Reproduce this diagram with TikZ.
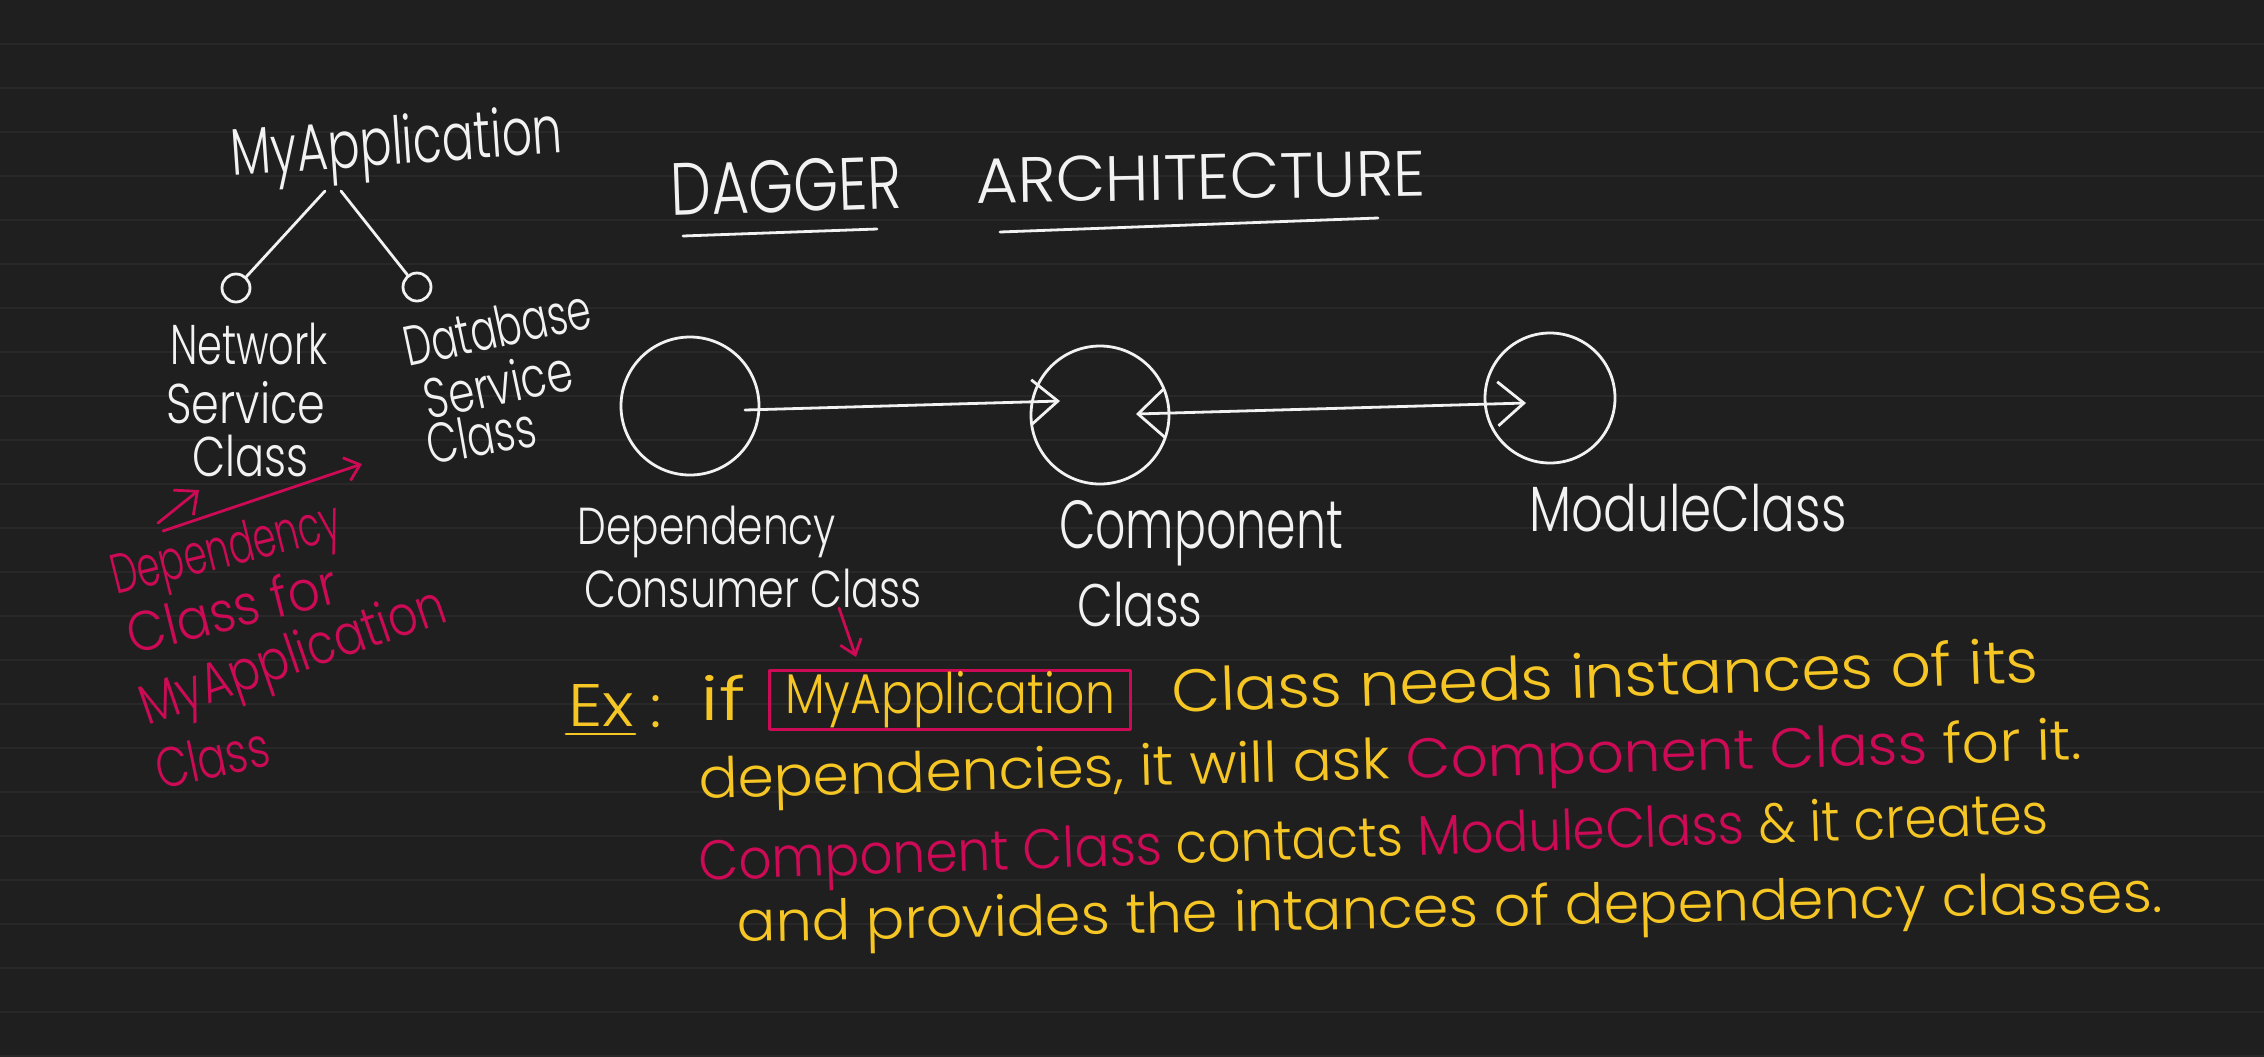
\documentclass[tikz,border=0pt]{standalone}
\usepackage{fontspec}
\setmainfont{Poppins}[UprightFont=* Light]
\usepackage{graphicx}
\usetikzlibrary{arrows.meta,calc}
\definecolor{bg}{HTML}{1F1F1F}
\definecolor{rulec}{HTML}{282828}
\definecolor{ink}{HTML}{F2F2F2}
\definecolor{yel}{HTML}{F6C624}
\definecolor{crim}{HTML}{CC0A55}
\newlength\pxu \setlength\pxu{0.5pt}
\newcommand\hw[2]{\resizebox{#1\pxu}{\height}{#2}}
\newcommand\fs[1]{\fontsize{#1}{#1}\selectfont}
\begin{document}
\begin{tikzpicture}[x=0.5pt,y=-0.5pt,
  txt/.style={inner sep=0pt, anchor=center, text=ink},
  ytxt/.style={inner sep=0pt, anchor=center, text=yel},
  rtxt/.style={inner sep=0pt, anchor=center, text=crim},
  pen/.style={line width=1.4pt, line cap=round, line join=round},
  bigc/.style={circle, draw=ink, pen, minimum size=69pt, inner sep=0pt},
  smallc/.style={circle, draw=ink, pen, minimum size=14pt, inner sep=0pt},
  barb/.style={-{Straight Barb[length=13pt,width=22pt]}},
  dbarb/.style={{Straight Barb[length=13pt,width=24pt]}-{Straight Barb[length=13pt,width=22pt]}}]
\useasboundingbox (0,0) rectangle (2264,1056);
\fill[bg] (0,0) rectangle (2264,1056);
\foreach \k in {0,...,23}{\draw[rulec, line width=1pt] (0,{43.5+44*\k}) -- (2264,{43.5+44*\k});}

% tree
\node[txt, rotate=4] (ma) at (397,148) {\fs{33}\hw{332}{MyApplication}};
\node[smallc] (nc) at (236,288) {};
\node[smallc] (dc) at (417,287) {};
\draw[ink, pen] ($(ma.center)+(-72,43)$) -- (nc);
\draw[ink, pen] ($(ma.center)+(-56,43)$) -- (dc);
\node[txt] (n1) at (249,344) {\fs{28}\hw{158}{Network}};
\node[txt] (n2) at (246,403) {\fs{28}\hw{159}{Service}};
\node[txt] (n3) at (250,456) {\fs{28}\hw{116}{Class}};
\node[txt, rotate=12] (d1) at (497,327) {\fs{28}\hw{190}{Database}};
\node[txt, rotate=12] (d2) at (498,384) {\fs{28}\hw{150}{Service}};
\node[txt, rotate=10] (d3) at (481,435) {\fs{28}\hw{110}{Class}};

% red note
\node[rtxt, rotate=14] (rd1) at (227,553) {\fs{28}\hw{235}{Dependency}};
\node[rtxt, rotate=14] (rd2) at (232,608) {\fs{28}\hw{215}{Class for}};
\node[rtxt, rotate=19] (rd3) at (294,660) {\fs{28}\hw{320}{MyApplication}};
\node[rtxt, rotate=12] (rd4) at (212,757) {\fs{28}\hw{115}{Class}};
\draw[crim, pen, -{Straight Barb[length=7pt,width=12pt]}] ($(rd1.center)+(-64,-22)$) -- ($(d3.center)+(-119,29)$);
\draw[crim, pen, -{Straight Barb[length=9pt,width=16pt]}] ($(rd1.center)+(-69,-30)$) -- ($(n3.center)+(-51,34)$);

% title
\node[txt, rotate=2] (t1) at (786,186) {\fs{37}\hw{231}{DAGGER}};
\node[txt, rotate=1] (t2) at (1201,177) {\fs{32}\hw{450}{ARCHITECTURE}};
\draw[ink, pen] ($(t1.center)+(-103,50)$) -- ($(t1.center)+(91,43)$);
\draw[ink, pen] ($(t2.center)+(-201,55)$) -- ($(t2.center)+(177,41)$);

% circles
\node[bigc] (c1) at (690,406) {};
\node[bigc] (c2) at (1100,415) {};
\node[bigc, minimum size=65pt] (c3) at (1550,398) {};
\draw[ink, pen, barb] ($(c1.center)+(55,4)$) -- ($(c2.center)+(-40,-14)$);
\draw[ink, pen, dbarb] ($(c2.center)+(36,-1)$) -- ($(c3.center)+(-24,5)$);

\node[txt] (dep) at (707,532) {\fs{26}\hw{258}{Dependency}};
\node[txt] (cc) at (753,588) {\fs{26}\hw{337}{Consumer Class}};
\node[txt] (cp) at (1201,533) {\fs{34}\hw{284}{Component}};
\node[txt] (cp2) at (1140,605) {\fs{30}\hw{125}{Class}};
\node[txt] (mc) at (1688,508) {\fs{32}\hw{317}{ModuleClass}};

% example
\node[ytxt] (ex) at (601,705) {\fs{30}\hw{66}{Ex}};
\draw[yel, pen] ($(ex.center)+(-35,29)$) -- ($(ex.center)+(34,29)$);
\node[ytxt] (col) at (656,712) {\fs{30}:};
\node[ytxt] (if) at (723,698) {\fs{30}\hw{45}{if}};
\node[ytxt, draw=crim, pen, minimum width=180.5pt, minimum height=29.5pt] (box) at (950,700) {\fs{28}\hw{330}{MyApplication}};
\draw[crim, pen, -{Straight Barb[length=7pt,width=11pt]}] ($(cc.center)+(86,20)$) -- ($(box.center)+(-94,-43)$);
\node[ytxt, rotate=2] (l1) at (1605,675) {\fs{30}\hw{867}{Class needs instances of its}};
\node[ytxt, rotate=1.6] (l2) at (1390,765) {\fs{28}\hw{1383}{dependencies, it will ask \textcolor{crim}{Component Class} for it.}};
\node[ytxt, rotate=2] (l3) at (1374,843) {\fs{28}\hw{1350}{\textcolor{crim}{Component Class} contacts \textcolor{crim}{ModuleClass} \& it creates}};
\node[ytxt, rotate=1.2] (l4) at (1450,913) {\fs{28}\hw{1426}{and provides the intances of dependency classes.}};
\end{tikzpicture}
\end{document}
